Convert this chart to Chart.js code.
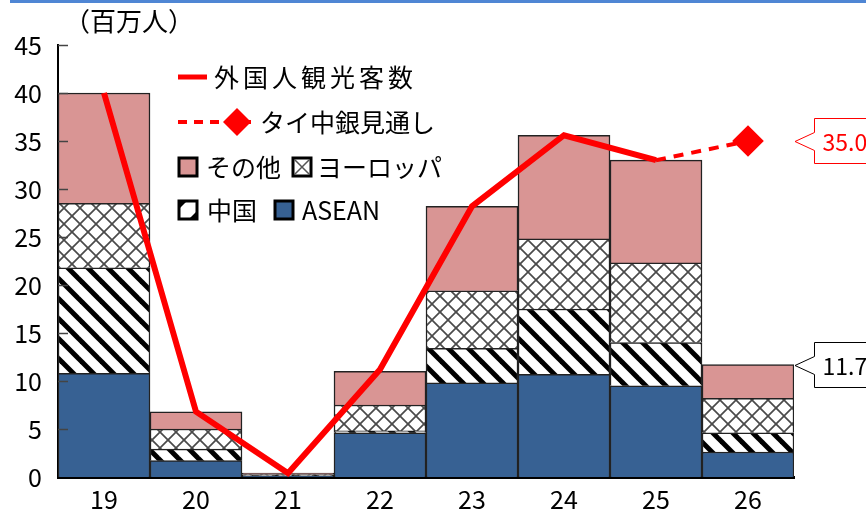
<!DOCTYPE html>
<html>
<head>
<meta charset="utf-8">
<script src="https://cdn.jsdelivr.net/npm/chart.js@4.4.1/dist/chart.umd.min.js"></script>
<style>
  html, body { margin: 0; padding: 0; background: #fff; }
  #wrap { position: relative; width: 866px; height: 516px; }
  #topbar { position: absolute; left: 10px; top: 0; width: 856px; height: 3px; background: #4f86d4; }
</style>
</head>
<body>
<div id="wrap">
  <canvas id="c" width="866" height="516"></canvas>
  <div id="topbar"></div>
</div>
<script>
const categories = ['19', '20', '21', '22', '23', '24', '25', '26'];
const asean  = [10.8, 1.7, 0.1, 4.6, 9.8, 10.7, 9.5, 2.6];
const china  = [11.0, 1.2, 0.05, 0.2, 3.6, 6.8, 4.5, 2.0];
const europe = [6.7, 2.1, 0.1, 2.7, 6.0, 7.3, 8.3, 3.6];
const other  = [11.5, 1.8, 0.15, 3.5, 8.8, 10.8, 10.7, 3.5];
const visitors = [40.0, 6.8, 0.4, 11.2, 28.2, 35.6, 33.0, null];
const forecast = [null, null, null, null, null, null, 33.0, 35.0];
const yTicks = [0, 5, 10, 15, 20, 25, 30, 35, 40, 45];
const callouts = [
  { value: 35.0, label: '35.0', color: '#ff0000' },
  { value: 11.7, label: '11.7', color: '#000000' }
];
const unitLabel = '（百万人）';
const legendLabels = {
  visitors: '外国人観光客数', forecast: 'タイ中銀見通し',
  other: 'その他', europe: 'ヨーロッパ', china: '中国', asean: 'ASEAN'
};

const FONT = "'Noto Sans CJK JP', 'Noto Sans', sans-serif";

function makeStripe() {
  const s = 20, c = document.createElement('canvas');
  c.width = s; c.height = s;
  const g = c.getContext('2d');
  g.fillStyle = '#fff'; g.fillRect(0, 0, s, s);
  g.strokeStyle = '#000'; g.lineWidth = 5;
  for (let k = -1; k <= 1; k++) {
    g.beginPath(); g.moveTo(k * s - 2, -2); g.lineTo(k * s + s + 2, s + 2); g.stroke();
  }
  return g.createPattern(c, 'repeat');
}
function makeCross() {
  const s = 16, c = document.createElement('canvas');
  c.width = s; c.height = s;
  const g = c.getContext('2d');
  g.fillStyle = '#fff'; g.fillRect(0, 0, s, s);
  g.strokeStyle = '#4a4a4a'; g.lineWidth = 1.7;
  g.beginPath(); g.moveTo(-1, -1); g.lineTo(s + 1, s + 1); g.stroke();
  g.beginPath(); g.moveTo(s + 1, -1); g.lineTo(-1, s + 1); g.stroke();
  return g.createPattern(c, 'repeat');
}
const ctx0 = document.getElementById('c').getContext('2d');
const stripe = makeStripe();
const cross = makeCross();

const COL_ASEAN = '#376193';
const COL_OTHER = '#d99594';

const overlay = {
  id: 'overlay',
  afterDatasetsDraw(chart) {
    const ctx = chart.ctx, y = chart.scales.y;
    const left = chart.chartArea.left;
    ctx.save();
    ctx.strokeStyle = '#444'; ctx.lineWidth = 1.5;
    yTicks.forEach(v => {
      if (v === 0) return;
      const py = Math.round(y.getPixelForValue(v)) + 0.5;
      ctx.beginPath(); ctx.moveTo(left, py); ctx.lineTo(left + 10, py); ctx.stroke();
    });
    ctx.restore();
  },
  afterDraw(chart) {
    const ctx = chart.ctx, y = chart.scales.y, x = chart.scales.x;
    ctx.save();
    ctx.font = '26px ' + FONT; ctx.fillStyle = '#000';
    ctx.textBaseline = 'middle'; ctx.textAlign = 'left';
    ctx.fillText(unitLabel, 64, 21);

    ctx.font = '25px ' + FONT;
    // row 1
    ctx.strokeStyle = '#ff0000'; ctx.lineWidth = 5;
    ctx.beginPath(); ctx.moveTo(178, 77); ctx.lineTo(207, 77); ctx.stroke();
    ctx.fillStyle = '#000';
    ctx.letterSpacing = '4px';
    ctx.fillText(legendLabels.visitors, 214, 77);
    ctx.letterSpacing = '0px';
    // row 2
    ctx.setLineDash([9, 7]); ctx.lineWidth = 4;
    ctx.beginPath(); ctx.moveTo(178, 122); ctx.lineTo(254, 122); ctx.stroke();
    ctx.setLineDash([]);
    ctx.fillStyle = '#ff0000';
    ctx.beginPath(); ctx.moveTo(237, 108); ctx.lineTo(251, 122); ctx.lineTo(237, 136); ctx.lineTo(223, 122); ctx.closePath(); ctx.fill();
    ctx.fillStyle = '#000'; ctx.fillText(legendLabels.forecast, 260, 122);
    function sq(px, py, fill) {
      ctx.fillStyle = fill; ctx.fillRect(px, py - 10, 20, 20);
      ctx.strokeStyle = '#000'; ctx.lineWidth = 3; ctx.strokeRect(px + 1, py - 9, 18, 18);
    }
    sq(178, 167, COL_OTHER);
    ctx.fillStyle = '#000'; ctx.fillText(legendLabels.other, 206, 167);
    ctx.fillStyle = '#fff'; ctx.fillRect(292, 157, 20, 20);
    ctx.strokeStyle = '#555'; ctx.lineWidth = 1.5;
    ctx.beginPath(); ctx.moveTo(295, 160); ctx.lineTo(309, 174); ctx.moveTo(309, 160); ctx.lineTo(295, 174); ctx.stroke();
    ctx.strokeStyle = '#000'; ctx.lineWidth = 3; ctx.strokeRect(293, 158, 18, 18);
    ctx.fillStyle = '#000'; ctx.fillText(legendLabels.europe, 317, 167);

    ctx.fillStyle = '#fff'; ctx.fillRect(178, 200, 20, 20);
    ctx.save(); ctx.beginPath(); ctx.rect(178, 200, 20, 20); ctx.clip();
    ctx.fillStyle = '#000';
    ctx.beginPath(); ctx.moveTo(178, 200); ctx.lineTo(188, 200); ctx.lineTo(178, 210); ctx.closePath(); ctx.fill();
    ctx.beginPath(); ctx.moveTo(198, 220); ctx.lineTo(188, 220); ctx.lineTo(198, 210); ctx.closePath(); ctx.fill();
    ctx.restore();
    ctx.strokeStyle = '#000'; ctx.lineWidth = 3; ctx.strokeRect(179, 201, 18, 18);
    ctx.fillStyle = '#000'; ctx.fillText(legendLabels.china, 207, 210);
    sq(274, 210, COL_ASEAN);
    ctx.fillStyle = '#000'; ctx.fillText(legendLabels.asean, 302, 210);

    const tipX = x.getPixelForValue(categories.length - 1) + (x.getPixelForValue(1) - x.getPixelForValue(0)) / 2 + 1;
    callouts.forEach(cb => {
      const yc = Math.round(y.getPixelForValue(cb.value)) + 0.5;
      const bx = tipX + 19.5, top = yc - 23, bot = yc + 22;
      ctx.beginPath();
      ctx.moveTo(870, top); ctx.lineTo(bx, top); ctx.lineTo(bx, yc - 9);
      ctx.lineTo(tipX, yc); ctx.lineTo(bx, yc + 9); ctx.lineTo(bx, bot); ctx.lineTo(870, bot);
      ctx.fillStyle = '#fff'; ctx.fill();
      ctx.strokeStyle = cb.color; ctx.lineWidth = 1; ctx.stroke();
      ctx.fillStyle = cb.color; ctx.font = '23px ' + FONT; ctx.textAlign = 'left';
      ctx.fillText(cb.label, bx + 8, yc + 1);
    });
    ctx.restore();
  }
};

const barCommon = { stack: 'bars', borderColor: '#222', borderWidth: 1.5, order: 2, barPercentage: 1, categoryPercentage: 1 };

new Chart(ctx0, {
  type: 'bar',
  data: {
    labels: categories,
    datasets: [
      Object.assign({ label: legendLabels.asean, data: asean, backgroundColor: COL_ASEAN }, barCommon),
      Object.assign({ label: legendLabels.china, data: china, backgroundColor: stripe }, barCommon),
      Object.assign({ label: legendLabels.europe, data: europe, backgroundColor: cross }, barCommon),
      Object.assign({ label: legendLabels.other, data: other, backgroundColor: COL_OTHER, borderColor: '#444' }, barCommon),
      { type: 'line', label: legendLabels.visitors, data: visitors, stack: 'l1', order: 1,
        borderColor: '#ff0000', borderWidth: 6, pointRadius: 0, tension: 0, fill: false, spanGaps: false,
        borderJoinStyle: 'miter' },
      { type: 'line', label: legendLabels.forecast, data: forecast, stack: 'l2', order: 0,
        borderColor: '#ff0000', borderWidth: 4, borderDash: [10, 8], tension: 0, fill: false,
        pointStyle: 'rectRot', pointBackgroundColor: '#ff0000', pointBorderColor: '#ff0000',
        pointRadius: [0, 0, 0, 0, 0, 0, 0, 13], pointHoverRadius: 0 }
    ]
  },
  options: {
    responsive: false,
    animation: false,
    devicePixelRatio: 1,
    layout: { padding: { top: 45, right: 72, bottom: 0, left: 0 } },
    plugins: { legend: { display: false }, tooltip: { enabled: false } },
    scales: {
      x: {
        stacked: true,
        grid: { display: false, drawTicks: false },
        border: { display: true, color: '#000', width: 3 },
        ticks: { color: '#000', font: { family: FONT, size: 25 }, padding: 7 },
        afterFit(s) { s.height = 39; }
      },
      y: {
        stacked: true, min: 0, max: 45,
        grid: { display: false, drawTicks: false },
        border: { display: true, color: '#000', width: 2 },
        ticks: { stepSize: 5, color: '#000', font: { family: FONT, size: 25 }, padding: 16,
                 callback: (v) => yTicks.includes(v) ? String(v) : '' },
        afterFit(s) { s.width = 58; }
      }
    }
  },
  plugins: [overlay]
});
</script>
</body>
</html>
